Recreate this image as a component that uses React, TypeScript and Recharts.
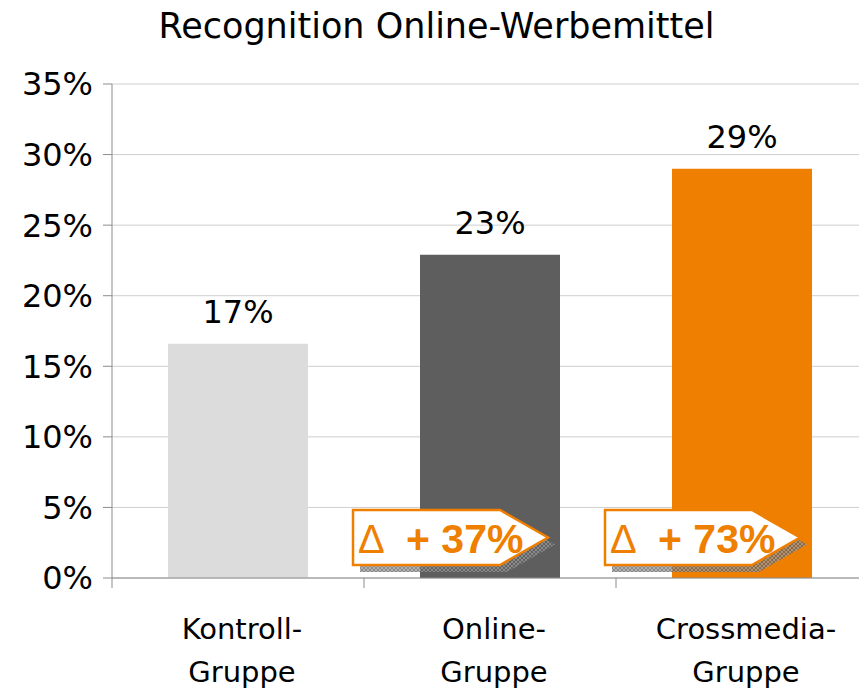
import { BarChart, Bar, XAxis, YAxis, CartesianGrid, Cell, LabelList } from "recharts";

const categories = ["Kontroll-Gruppe", "Online-Gruppe", "Crossmedia-Gruppe"];
const values = [16.6, 22.9, 29.0];
const valueLabels = ["17%", "23%", "29%"];
const deltaLabels = ["", "+ 37%", "+ 73%"];
const barColors = ["#dcdcdc", "#5e5e5e", "#ee7f00"];
const yTicks = [0, 5, 10, 15, 20, 25, 30, 35];

const FONT = "'DejaVu Sans', sans-serif";
const ORANGE = "#ee7f00";
const AXIS = "#8c8c8c";

const rows = categories.map((c, i) => ({
  name: c,
  value: values[i],
  label: valueLabels[i],
  delta: deltaLabels[i],
}));

function CategoryTick(props: any) {
  const { x, y, payload } = props;
  const s: string = payload.value;
  const cut = s.indexOf("-");
  const lines = [s.slice(0, cut + 1), s.slice(cut + 1)];
  const half = payload.offset ?? 0;
  return (
    <g>
      <line x1={x - half} x2={x - half} y1={y} y2={y + 10} stroke={AXIS} />
      <text x={x + 4} y={y + 61} textAnchor="middle" fontSize={29} fill="#000">
        {lines[0]}
      </text>
      <text x={x + 4} y={y + 104} textAnchor="middle" fontSize={29} fill="#000">
        {lines[1]}
      </text>
    </g>
  );
}

function DeltaCallout(props: any) {
  const { value, index } = props;
  if (!value) return null;
  const vb = props.viewBox ?? props;
  const { x, y, height } = vb;
  const base = y + height;
  const left = x - 67;
  const top = base - 68;
  const h = 55;
  const body = 147;
  const tip = 195;
  const pts = (dx: number, dy: number) =>
    [
      [left + dx, top + dy],
      [left + body + dx, top + dy],
      [left + tip + dx, top + h / 2 + dy],
      [left + body + dx, top + h + dy],
      [left + dx, top + h + dy],
    ]
      .map((p) => p.join(","))
      .join(" ");
  return (
    <g>
      <defs>
        <pattern id={`hatch${index}`} width={4} height={4} patternUnits="userSpaceOnUse">
          <rect width={4} height={4} fill="#9a9a9a" />
          <path d="M0 0L4 4M4 0L0 4" stroke="#555" strokeWidth={0.8} />
        </pattern>
      </defs>
      <polygon points={pts(7, 7)} fill={`url(#hatch${index})`} opacity={0.75} />
      <polygon points={pts(0, 0)} fill="#fff" stroke={ORANGE} strokeWidth={2.5} />
      <text x={left + 5} y={base - 25} fontSize={40} fill={ORANGE} fontFamily="'Liberation Sans', sans-serif">
        Δ
      </text>
      <text
        x={left + 53}
        y={base - 25}
        fontSize={41}
        fontWeight="bold"
        fill={ORANGE}
        fontFamily="'Liberation Sans', sans-serif"
      >
        {value}
      </text>
    </g>
  );
}

export default function App() {
  return (
    <div
      style={{
        position: "absolute",
        left: 0,
        top: 0,
        width: 859,
        height: 690,
        overflow: "hidden",
        background: "#fff",
        fontFamily: FONT,
      }}
    >
      <div
        style={{
          position: "absolute",
          left: 7,
          top: 7,
          width: 859,
          textAlign: "center",
          fontSize: 35,
          lineHeight: "38px",
          color: "#000",
        }}
      >
        Recognition Online-Werbemittel
      </div>
      <BarChart width={868} height={690} data={rows} margin={{ top: 84, right: 0, bottom: 0, left: 0 }}>
        <CartesianGrid vertical={false} stroke="#cfcfcf" />
        <YAxis
          type="number"
          domain={[0, 35]}
          ticks={yTicks}
          tickFormatter={(v) => `${v}%`}
          width={112}
          tickSize={9}
          tickMargin={10}
          tick={{ fill: "#000", fontSize: 32 }}
          axisLine={{ stroke: AXIS }}
          tickLine={{ stroke: AXIS }}
        />
        <XAxis
          dataKey="name"
          height={112}
          interval={0}
          tickLine={false}
          tickSize={0}
          tickMargin={0}
          axisLine={{ stroke: AXIS }}
          tick={<CategoryTick />}
        />
        <Bar dataKey="value" barSize={140} isAnimationActive={false}>
          {rows.map((r, i) => (
            <Cell key={r.name} fill={barColors[i]} />
          ))}
          <LabelList dataKey="label" position="top" offset={21} fill="#000" fontSize={32} />
          <LabelList dataKey="delta" content={<DeltaCallout />} />
        </Bar>
      </BarChart>
    </div>
  );
}
